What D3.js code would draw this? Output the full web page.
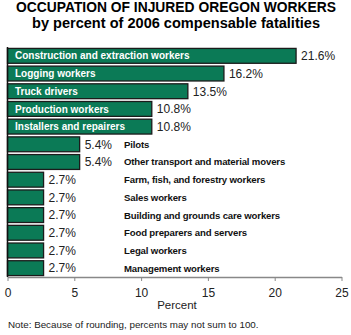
<!DOCTYPE html>
<html>
<head>
<meta charset="utf-8">
<script src="https://cdn.jsdelivr.net/npm/d3@7/dist/d3.min.js"></script>
<style>
  html, body { margin: 0; padding: 0; background: #fff; }
  svg { display: block; font-family: Arial, "Liberation Sans", sans-serif; }
</style>
</head>
<body>
<svg id="chart" width="351" height="335"></svg>
<script>
const occupations = [
  "Construction and extraction workers",
  "Logging workers",
  "Truck drivers",
  "Production workers",
  "Installers and repairers",
  "Pilots",
  "Other transport and material movers",
  "Farm, fish, and forestry workers",
  "Sales workers",
  "Building and grounds care workers",
  "Food preparers and servers",
  "Legal workers",
  "Management workers"
];
const percents = [21.6, 16.2, 13.5, 10.8, 10.8, 5.4, 5.4, 2.7, 2.7, 2.7, 2.7, 2.7, 2.7];
// Occupations whose name fits inside its bar
const labelInside = [true, true, true, true, true, false, false, false, false, false, false, false, false];
const xTicks = [0, 5, 10, 15, 20, 25];
const titleLines = ["OCCUPATION OF INJURED OREGON WORKERS", "by percent of 2006 compensable fatalities"];
const axisTitle = "Percent";
const note = "Note: Because of rounding, percents may not sum to 100.";

const rows = occupations.map((name, i) => ({ name, value: percents[i], inside: labelInside[i] }));

const svg = d3.select("#chart");
const margin = { top: 47, left: 7.5, right: 9.5, bottom: 58 };
const W = 351, H = 335;

const x = d3.scaleLinear().domain([0, 25]).range([margin.left, W - margin.right]);
const y = d3.scaleBand().domain(occupations).range([margin.top, H - margin.bottom]).paddingInner(0.16).paddingOuter(0.08);

// Title, each line fitted to its width
const titleWidths = [320, 288];
svg.append("g").selectAll("text").data(titleLines).join("text")
  .attr("x", 176).attr("y", (d, i) => 12 + i * 16)
  .attr("text-anchor", "middle")
  .attr("font-size", 14).attr("font-weight", "bold").attr("fill", "#000")
  .attr("textLength", (d, i) => titleWidths[i]).attr("lengthAdjust", "spacingAndGlyphs")
  .text(d => d);

// Bars
svg.append("g").selectAll("rect").data(rows).join("rect")
  .attr("x", x(0)).attr("y", d => y(d.name))
  .attr("width", d => x(d.value) - x(0))
  .attr("height", y.bandwidth())
  .attr("fill", "#0b7a56").attr("stroke", "#1b1b1b").attr("stroke-width", 1.3);

// Value labels
svg.append("g").selectAll("text").data(rows).join("text")
  .attr("x", d => x(d.value) + 5)
  .attr("y", d => y(d.name) + y.bandwidth() / 2)
  .attr("dy", "0.36em")
  .attr("font-size", 12).attr("fill", "#222")
  .text(d => d.value.toFixed(1) + "%");

// Category labels
svg.append("g").selectAll("text").data(rows).join("text")
  .attr("x", d => d.inside ? x(0) + 7.5 : 124)
  .attr("y", d => y(d.name) + y.bandwidth() / 2)
  .attr("dy", "0.36em")
  .attr("font-size", d => d.inside ? 10 : 9.6).attr("font-weight", "bold")
  .attr("letter-spacing", d => d.inside ? 0 : -0.15)
  .attr("fill", d => d.inside ? "#fff" : "#111")
  .text(d => d.name);

// X axis
const axisY = H - margin.bottom;
const xAxis = svg.append("g").attr("transform", `translate(0,${axisY})`)
  .call(d3.axisBottom(x).tickValues(xTicks).tickSize(4).tickSizeOuter(0).tickPadding(7));
xAxis.select(".domain").attr("stroke", "#888").attr("stroke-width", 1.5);
xAxis.selectAll(".tick line").attr("stroke", "#888");
xAxis.selectAll(".tick text").attr("font-size", 12).attr("fill", "#222").attr("font-family", "Arial, 'Liberation Sans', sans-serif");

// Y axis line
svg.append("line")
  .attr("x1", x(0)).attr("x2", x(0))
  .attr("y1", margin.top).attr("y2", axisY)
  .attr("stroke", "#111").attr("stroke-width", 1.5);

// Axis title and note
svg.append("text").attr("x", 177).attr("y", 309)
  .attr("text-anchor", "middle").attr("font-size", 11.5).attr("fill", "#222")
  .text(axisTitle);
svg.append("text").attr("x", 8).attr("y", 328)
  .attr("font-size", 9.8).attr("fill", "#222")
  .text(note);
</script>
</body>
</html>
